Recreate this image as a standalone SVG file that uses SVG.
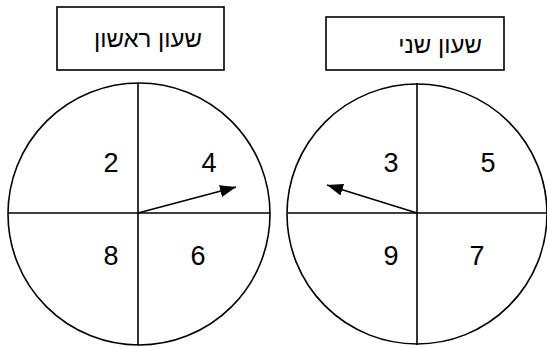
<svg xmlns="http://www.w3.org/2000/svg" width="547" height="347" viewBox="0 0 547 347">
<defs>
<style>
.s{fill:none;stroke:#000;stroke-width:1.6}
.box{fill:#fff;stroke:#000;stroke-width:1.6}
.t{font-family:"Liberation Sans",Arial,sans-serif;fill:#000}
.lab{font-size:24px;text-anchor:end}
.num{font-size:27px;text-anchor:middle}
</style>
<marker id="ah" viewBox="0 0 16 12" refX="16" refY="6" markerWidth="16" markerHeight="12" markerUnits="userSpaceOnUse" orient="auto">
<path d="M0,0 L16,6 L0,12 Z" fill="#000"/>
</marker>
</defs>
<rect width="547" height="347" fill="#fff"/>
<g id="label1">
<rect class="box" x="57" y="7" width="167" height="63"/>
<text class="t lab" x="202" y="47">שעון ראשון</text>
</g>
<g id="label2">
<rect class="box" x="326" y="17" width="178" height="53"/>
<text class="t lab" x="482" y="53">שעון שני</text>
</g>
<g id="spinner1">
<circle class="s" cx="139" cy="214" r="131"/>
<line class="s" x1="8" y1="213" x2="270" y2="213"/>
<line class="s" x1="138" y1="83" x2="138" y2="345"/>
<text class="t num" x="111" y="172">2</text>
<text class="t num" x="209" y="172">4</text>
<text class="t num" x="111" y="265">8</text>
<text class="t num" x="198" y="265">6</text>
</g>
<g id="spinner2">
<circle class="s" cx="417" cy="214" r="130"/>
<line class="s" x1="288" y1="213" x2="547" y2="213"/>
<line class="s" x1="417" y1="83" x2="417" y2="345"/>
<text class="t num" x="391" y="172">3</text>
<text class="t num" x="488" y="172">5</text>
<text class="t num" x="391" y="265">9</text>
<text class="t num" x="477" y="265">7</text>
</g>
<g id="connectors">
<line class="s" x1="138" y1="213" x2="236" y2="187" marker-end="url(#ah)"/>
<line class="s" x1="417" y1="213" x2="327" y2="185" marker-end="url(#ah)"/>
</g>
</svg>
